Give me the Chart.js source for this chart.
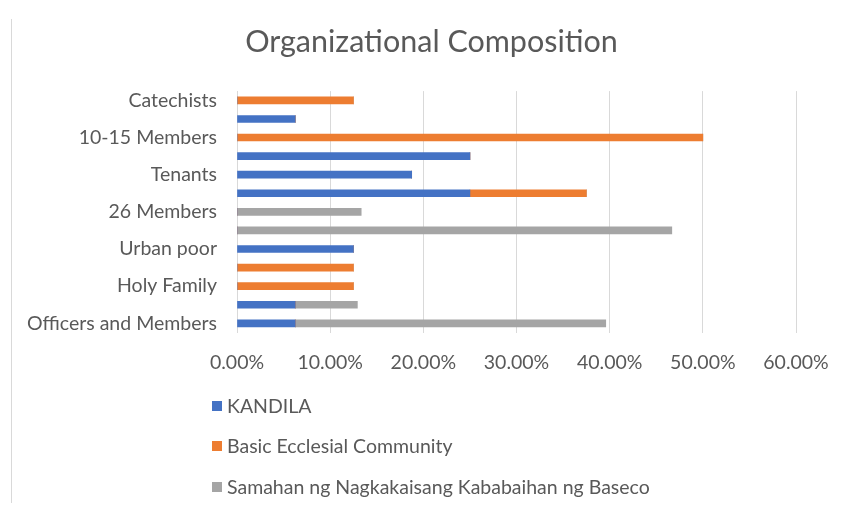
<!DOCTYPE html>
<html>
<head>
<meta charset="utf-8">
<script src="https://cdn.jsdelivr.net/npm/chart.js@4"></script>
<style>
  html, body { margin: 0; padding: 0; background: #fff; overflow: hidden; }
  #frame { position: absolute; left: 11px; top: 19px; width: 1px; height: 484px; background: #d9d9d9; }
  #wrap { position: absolute; left: 11px; top: 0; width: 841px; height: 506px; }
</style>
</head>
<body>
<div id="frame"></div>
<div id="wrap"><canvas id="myChart"></canvas></div>
<script>
// rows top to bottom, only every other row has a visible label
var categories=['Catechists','','10-15 Members','','Tenants','','26 Members','','Urban poor','','Holy Family','','Officers and Members'];
var kandila=[0,6.25,0,25,18.75,25,0,0,12.5,0,0,6.25,6.25];
var basicEcclesial=[12.5,0,50,0,0,12.5,0,0,0,12.5,12.5,0,0];
var samahan=[0,0,0,0,0,0,13.33,46.67,0,0,0,6.67,33.33];
var seriesNames=['KANDILA','Basic Ecclesial Community','Samahan ng Nagkakaisang Kababaihan ng Baseco'];
var xTicks=[0,10,20,30,40,50,60];

var fontName='Lato, "Open Sans", sans-serif';
var textColor='#595959';

// legend drawn as a vertical list under the axis, like the original
var listLegend={
    id:'listLegend',
    afterDraw:function(chart) {
        var ctx=chart.ctx;
        var rowY=[406,446,487];
        ctx.save();
        ctx.font='19.5px '+fontName;
        ctx.textBaseline='middle';
        chart.data.datasets.forEach(function(ds,i) {
            ctx.fillStyle=ds.backgroundColor;
            ctx.fillRect(201,rowY[i]-5,10,10);
            ctx.fillStyle=textColor;
            ctx.fillText(ds.label,216,rowY[i]+1);
        });
        ctx.restore();
    }
};

var ctx=document.querySelector('#myChart').getContext('2d');
var myChart=new Chart(ctx,{
    type:'bar',
    data:{
        labels:categories,
        datasets:[
            {label:seriesNames[0],data:kandila,backgroundColor:'#4472C4',barThickness:7},
            {label:seriesNames[1],data:basicEcclesial,backgroundColor:'#ED7D31',barThickness:7},
            {label:seriesNames[2],data:samahan,backgroundColor:'#A5A5A5',barThickness:7}
        ]
    },
    plugins:[listLegend],
    options:{
        indexAxis:'y',
        responsive:true,
        maintainAspectRatio:false,
        animation:false,
        layout:{padding:{left:0,right:0,top:0,bottom:114}},
        plugins:{
            legend:{display:false},
            tooltip:{enabled:false},
            title:{
                display:true,
                text:'Organizational Composition',
                color:textColor,
                font:{family:fontName,size:30.5,weight:'normal'},
                padding:{top:23.5,bottom:31}
            }
        },
        scales:{
            x:{
                stacked:true,
                min:0,
                max:60,
                afterBuildTicks:function(axis) {
                    axis.ticks=xTicks.map(function(v) { return {value:v}; });
                },
                // keep the empty margin right of the 60% line
                afterFit:function(axis) { axis.paddingRight=56; },
                grid:{color:'#d9d9d9',drawTicks:false},
                border:{display:false},
                ticks:{
                    color:textColor,
                    font:{family:fontName,size:19.5},
                    padding:18,
                    maxRotation:0,
                    callback:function(v) { return v.toFixed(2)+'%'; }
                }
            },
            y:{
                stacked:true,
                afterFit:function(axis) { axis.width=226; },
                grid:{display:false,drawTicks:false},
                border:{display:true,color:'#d9d9d9'},
                ticks:{
                    autoSkip:false,
                    color:textColor,
                    font:{family:fontName,size:19.5},
                    padding:20
                }
            }
        }
    }
});
</script>
</body>
</html>
